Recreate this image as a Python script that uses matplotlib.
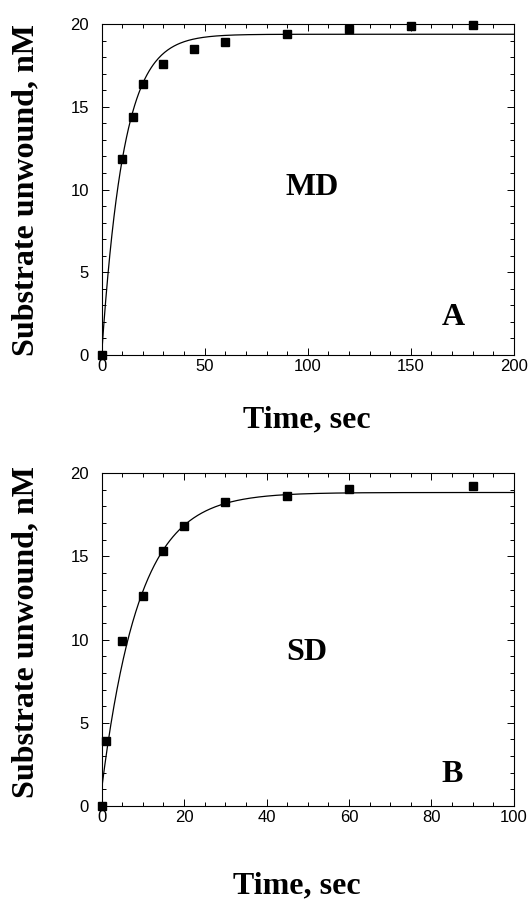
import numpy as np
import matplotlib
matplotlib.use("Agg")
import matplotlib.pyplot as plt
from matplotlib.ticker import MultipleLocator

# Panel A: MD substrate
time_md = [0, 10, 15, 20, 30, 45, 60, 90, 120, 150, 180]
unwound_md = [0.0, 11.85, 14.4, 16.4, 17.6, 18.5, 18.9, 19.4, 19.7, 19.85, 19.95]
# single-exponential fit: y = y0 + (amp - y0) * (1 - exp(-k t))
fit_md = {"amp": 19.38, "k": 0.094, "y0": 0.0}

# Panel B: SD substrate
time_sd = [0, 1, 5, 10, 15, 20, 30, 45, 60, 90]
unwound_sd = [0.0, 3.9, 9.9, 12.6, 15.35, 16.85, 18.25, 18.65, 19.05, 19.25]
fit_sd = {"amp": 18.84, "k": 0.11, "y0": 1.0}

serif = ["Liberation Serif", "DejaVu Serif"]
sans = ["Liberation Sans", "DejaVu Sans"]

plt.rcParams["font.family"] = sans
plt.rcParams["axes.linewidth"] = 0.8

fig = plt.figure(figsize=(5.32, 9.02), dpi=100)


def draw_panel(ax, t, y, fit, xmax, xmajor, xminor, name, letter, name_xy, letter_xy):
    tt = np.linspace(0, xmax, 400)
    curve = fit["y0"] + (fit["amp"] - fit["y0"]) * (1 - np.exp(-fit["k"] * tt))
    ax.plot(tt, curve, color="black", linewidth=0.9, zorder=2)
    ax.plot(t, y, "s", color="black", markersize=6, clip_on=False, zorder=3)

    ax.set_xlim(0, xmax)
    ax.set_ylim(0, 20)
    ax.xaxis.set_major_locator(MultipleLocator(xmajor))
    ax.xaxis.set_minor_locator(MultipleLocator(xminor))
    ax.yaxis.set_major_locator(MultipleLocator(5))
    ax.yaxis.set_minor_locator(MultipleLocator(1))
    ax.tick_params(which="both", direction="in", top=True, right=True, width=0.7)
    ax.tick_params(which="major", length=5, labelsize=12)
    ax.tick_params(which="minor", length=3)
    ax.tick_params(axis="x", which="major", pad=3)
    ax.tick_params(axis="y", which="major", pad=9)

    ax.text(*name_xy, name, ha="center", va="center", fontsize=23,
            fontweight="bold", family=serif)
    ax.text(*letter_xy, letter, ha="center", va="center", fontsize=23,
            fontweight="bold", family=serif)


ax_a = fig.add_axes([0.191, 0.6064, 0.775, 0.367])
draw_panel(ax_a, time_md, unwound_md, fit_md, 200, 50, 10,
           "MD", "A", (102, 10.15), (170.5, 2.25))

ax_b = fig.add_axes([0.191, 0.1064, 0.775, 0.369])
draw_panel(ax_b, time_sd, unwound_sd, fit_sd, 100, 20, 5,
           "SD", "B", (49.7, 9.25), (85, 1.9))

# axis titles
label_kw = dict(fontsize=23, fontweight="bold", family=serif,
                ha="center", va="center")
fig.text(0.049, 1 - 190 / 902, "Substrate unwound, nM", rotation=90, **label_kw)
fig.text(0.049, 1 - 632 / 902, "Substrate unwound, nM", rotation=90, **label_kw)
fig.text(307 / 532, 1 - 420 / 902, "Time, sec", **label_kw)
fig.text(297 / 532, 1 - 886 / 902, "Time, sec", **label_kw)

fig.savefig("out.png", dpi=100)
